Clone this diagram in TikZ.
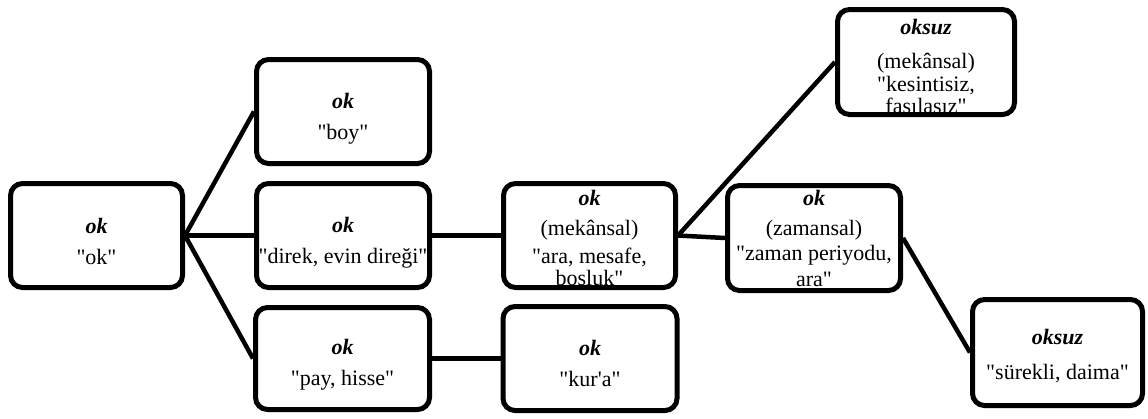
\documentclass[tikz,border=0pt]{standalone}
\usepackage{fontspec}
\setmainfont{Liberation Serif}[Ligatures=TeXOff]
\newcommand\kw[1]{\textbf{\textit{#1}}}
\begin{document}
\begin{tikzpicture}[x=1pt,y=-1pt,
  box/.style={draw, line width=5pt, rounded corners=12pt, align=center,
    inner sep=0pt, text depth=0pt, font=\fontsize{22}{23}\selectfont},
  link/.style={line width=4.5pt}]
\useasboundingbox (0,0) rectangle (1148,418);
\node[box, text height=57pt, minimum width=172pt, minimum height=104pt] (a) at (96.5,235.5) {\kw{ok}\\[8pt]"ok"};
\node[box, text height=55pt, minimum width=173pt, minimum height=104pt] (b1) at (343,111.5) {\kw{ok}\\[8pt]"boy"};
\node[box, text height=55pt, minimum width=173pt, minimum height=104pt] (b2) at (343,235.5) {\kw{ok}\\[8pt]"direk, evin direği"};
\node[box, text height=53pt, minimum width=174pt, minimum height=102pt] (b3) at (342.5,358.5) {\kw{ok}\\[8pt]"pay, hisse"};
\node[box, text height=99pt, minimum width=172pt, minimum height=104pt] (c1) at (589.5,235.5) {\kw{ok}\\[7pt](mekânsal)\\[5pt]"ara, mesafe,\\[-1pt]boşluk"};
\node[box, text height=55pt, minimum width=174pt, minimum height=104pt] (c2) at (590,358.5) {\kw{ok}\\[8pt]"kur'a"};
\node[box, text height=97pt, minimum width=173pt, minimum height=105pt] (d1) at (814,238) {\kw{ok}\\[7pt](zamansal)\\[2pt]"zaman periyodu,\\[3pt]ara"};
\node[box, text height=102pt, minimum width=177pt, minimum height=105pt] (e1) at (926,62) {\kw{oksuz}\\[11pt](mekânsal)\\[0pt]"kesintisiz,\\[-1pt]fasılasız"};
\node[box, text height=53pt, minimum width=170pt, minimum height=106pt] (e2) at (1057.5,352.5) {\kw{oksuz}\\[12pt]"sürekli, daima"};
\draw[link] (a.east) -- (b1.west);
\draw[link] (a.east) -- (b2.west);
\draw[link] (a.east) -- (b3.west);
\draw[link] (b2.east) -- (c1.west);
\draw[link] (b3.east) -- (c2.west);
\draw[link] (c1.east) -- (e1.west);
\draw[link] (c1.east) -- (d1.west);
\draw[link] (d1.east) -- (e2.west);
\end{tikzpicture}
\end{document}
